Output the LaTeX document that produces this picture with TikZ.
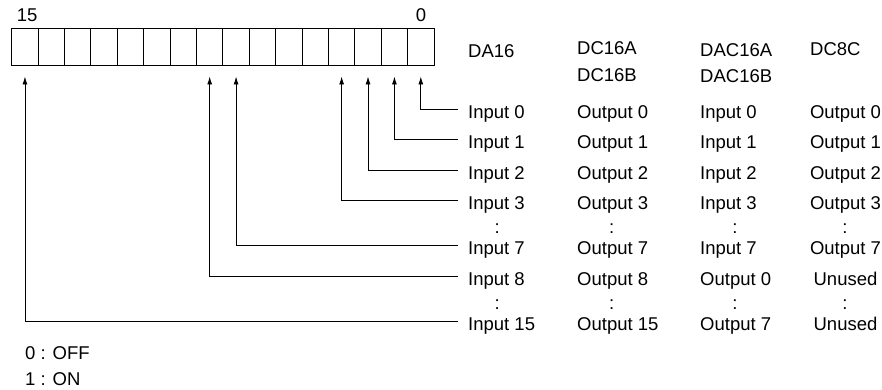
\documentclass[tikz,border=0pt]{standalone}
\usepackage{fontspec}
\setmainfont{Liberation Sans}
\usetikzlibrary{arrows.meta}
\begin{document}
\begin{tikzpicture}[x=1pt,y=-1pt,
  txt/.style={inner sep=0pt,font=\fontsize{18.5}{22}\selectfont},
  cell/.style={draw,line width=0.9pt,minimum width=26.39pt,minimum height=36.7pt,inner sep=0pt},
  lbl/.style={txt,anchor=base west},
  lblc/.style={txt,anchor=base},
  conn/.style={line width=0.9pt,-{Latex[length=8pt,width=5pt]},shorten >=11pt}]
\useasboundingbox (0,0) rectangle (882,389);
% register cells
\foreach \i in {0,...,15}
  \node[cell] (b\i) at ({434-26.39*(\i+0.5)},46.65) {};
\node[lbl] (t15) at (16.7,21) {15};
\node[lblc] (t0) at (421,21) {0};
% headers
\node[lbl] (h1) at (468,57.5) {DA16};
\node[lbl] (h2a) at (577,54) {DC16A};
\node[lbl] (h2b) at (577,81) {DC16B};
\node[lbl] (h3a) at (700,56.5) {DAC16A};
\node[lbl] (h3b) at (700,82) {DAC16B};
\node[lbl] (h4) at (810,55.5) {DC8C};
% rows
\foreach \n/\y/\a/\b/\c/\d in {0/118.5/Input 0/Output 0/Input 0/Output 0,
  1/148.5/Input 1/Output 1/Input 1/Output 1,
  2/179/Input 2/Output 2/Input 2/Output 2,
  3/209.5/Input 3/Output 3/Input 3/Output 3,
  7/254.7/Input 7/Output 7/Input 7/Output 7,
  8/285/Input 8/Output 8/Output 0/Unused,
  15/330.7/Input 15/Output 15/Output 7/Unused}{
  \node[lbl] (in\n) at (468,\y) {\a};
  \node[lbl] (oa\n) at (577,\y) {\b};
  \node[lbl] (oc\n) at (700,\y) {\c};
  \node[lblc] (od\n) at (845.5,\y) {\d};
}
% colons
\foreach \k/\y in {a/233.8,b/309.8}{
  \node[lblc] (ca\k) at (497.3,\y) {:};
  \node[lblc] (cb\k) at (611.7,\y) {:};
  \node[lblc] (cc\k) at (735,\y) {:};
  \node[lblc] (cd\k) at (845,\y) {:};
}
% connectors
\foreach \n in {0,1,2,3,7,8,15}{
  \coordinate (p\n) at ([xshift=-10pt,yshift=9pt]in\n.base west);
  \draw[conn] (p\n) -| (b\n.south);
}
% legend
\node[lbl] (off) at (25,359) {0 : OFF};
\node[lbl] (on) at (25,385) {1 : ON};
\end{tikzpicture}
\end{document}
